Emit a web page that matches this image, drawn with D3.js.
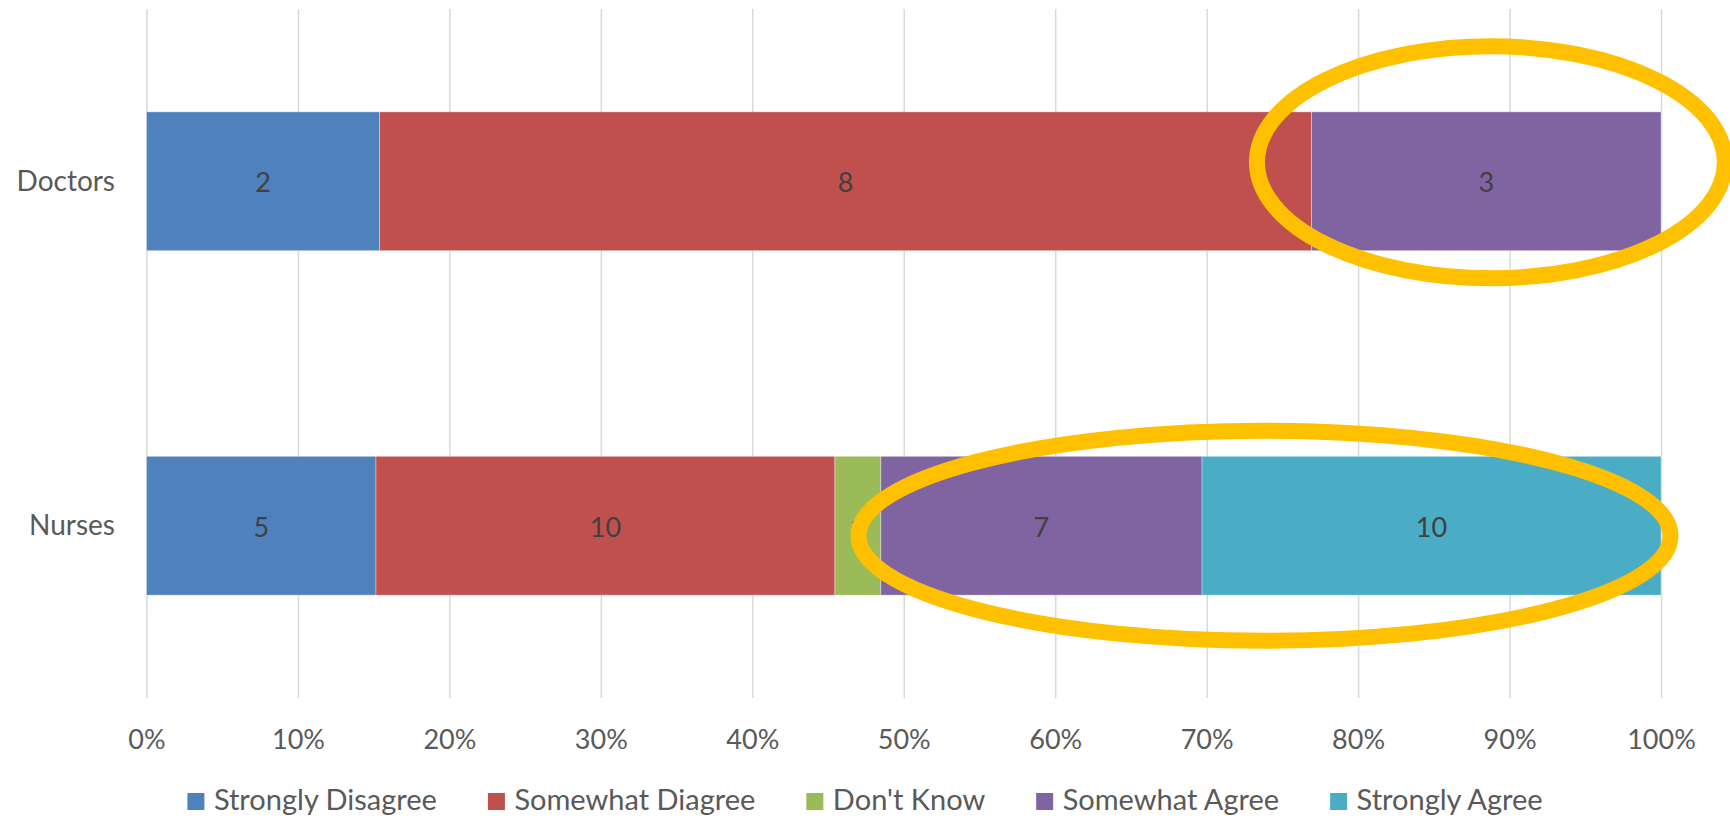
<!DOCTYPE html>
<html>
<head>
<meta charset="utf-8">
<script src="https://cdn.jsdelivr.net/npm/d3@7/dist/d3.min.js"></script>
<style>
  html, body { margin: 0; padding: 0; background: #ffffff; }
  svg { display: block; }
  text { font-family: Lato, "Open Sans", "Noto Sans", sans-serif; }
</style>
</head>
<body>
<svg id="chart" width="1730" height="819"></svg>
<script>
// Survey responses, counted per group
const categories = ["Doctors", "Nurses"];
const responses = ["Strongly Disagree", "Somewhat Diagree", "Don't Know", "Somewhat Agree", "Strongly Agree"];
const doctorsCounts = [2, 8, 0, 3, 0];
const nursesCounts = [5, 10, 1, 7, 10];
const tickValues = [0, 0.1, 0.2, 0.3, 0.4, 0.5, 0.6, 0.7, 0.8, 0.9, 1];
const colors = ["#4F81BD", "#C0504D", "#9BBB59", "#8064A2", "#4BACC6"];

// Highlight rings: span along the value axis (share of responses) and offset from the bar
const highlights = [
  { category: "Doctors", x0: 0.7332, x1: 1.0422, dy: -19, ry: 116 },
  { category: "Nurses",  x0: 0.4701, x1: 1.0063, dy: 10,  ry: 105 }
];

const countsByCategory = { Doctors: doctorsCounts, Nurses: nursesCounts };

const svg = d3.select("#chart");
const W = 1730, H = 819;
const plot = { left: 146.5, right: 1661, top: 9, bottom: 698 };

const x = d3.scaleLinear().domain([0, 1]).range([plot.left, plot.right]);
const y = d3.scaleBand()
  .domain(categories)
  .range([plot.top, plot.bottom])
  .paddingInner(0.597)
  .paddingOuter(0.2985);

// Gridlines + percentage tick labels
const xAxis = d3.axisBottom(x)
  .tickValues(tickValues)
  .tickFormat(d3.format(".0%"))
  .tickSize(-(plot.bottom - plot.top))
  .tickSizeOuter(0);

const gx = svg.append("g")
  .attr("transform", `translate(0,${plot.bottom})`)
  .call(xAxis);
gx.select(".domain").remove();
gx.selectAll(".tick line")
  .attr("stroke", "#D9D9D9")
  .attr("stroke-width", 1.5);
gx.selectAll(".tick text")
  .attr("y", 51)
  .attr("dy", 0)
  .attr("fill", "#595959")
  .attr("font-size", 27);

// Category labels
const yAxis = d3.axisLeft(y).tickSize(0).tickPadding(0);
const gy = svg.append("g")
  .attr("transform", `translate(115,0)`)
  .call(yAxis);
gy.select(".domain").remove();
gy.selectAll(".tick text")
  .attr("x", 0)
  .attr("dy", 0)
  .attr("y", 9.5)
  .attr("fill", "#595959")
  .attr("font-size", 28)
  .attr("text-anchor", "end");

// Stack as shares of each group's total
const rows = categories.map(c => {
  const counts = countsByCategory[c];
  const total = d3.sum(counts);
  const row = { category: c, total };
  responses.forEach((r, i) => { row[r] = counts[i] / total; row[r + "#n"] = counts[i]; });
  return row;
});
const series = d3.stack().keys(responses)(rows);

const layers = svg.append("g").selectAll("g")
  .data(series)
  .join("g")
  .attr("fill", (d, i) => colors[i]);

layers.selectAll("rect")
  .data(d => d.map(s => ({ s, key: d.key })))
  .join("rect")
  .filter(d => d.s[1] - d.s[0] > 0)
  .attr("x", d => x(d.s[0]))
  .attr("y", d => y(d.s.data.category))
  .attr("width", d => x(d.s[1]) - x(d.s[0]))
  .attr("height", y.bandwidth())
  .attr("stroke", "#ffffff")
  .attr("stroke-opacity", 0.35)
  .attr("stroke-width", 1);

// Count labels centred in each segment
const labels = svg.append("g");
series.forEach(layer => {
  layer.forEach(s => {
    const n = s.data[layer.key + "#n"];
    if (!n) return;
    labels.append("text")
      .attr("x", (x(s[0]) + x(s[1])) / 2)
      .attr("y", y(s.data.category) + y.bandwidth() / 2 + 11)
      .attr("text-anchor", "middle")
      .attr("fill", "#404040")
      .attr("font-size", 27)
      .text(n);
  });
});

// Highlight rings
svg.append("g").selectAll("ellipse")
  .data(highlights)
  .join("ellipse")
  .attr("cx", d => (x(d.x0) + x(d.x1)) / 2)
  .attr("cy", d => y(d.category) + y.bandwidth() / 2 + d.dy)
  .attr("rx", d => (x(d.x1) - x(d.x0)) / 2)
  .attr("ry", d => d.ry)
  .attr("fill", "none")
  .attr("stroke", "#FFC000")
  .attr("stroke-width", 16);

// Legend, centred under the chart
const legend = svg.append("g");
const swatch = 17, swatchGap = 9.5, itemGap = 51, legendBaseline = 810;
const items = legend.selectAll("g")
  .data(responses)
  .join("g");
items.append("rect")
  .attr("width", swatch)
  .attr("height", swatch)
  .attr("y", legendBaseline - 17)
  .attr("fill", (d, i) => colors[i]);
items.append("text")
  .attr("x", swatch + swatchGap)
  .attr("y", legendBaseline)
  .attr("fill", "#595959")
  .attr("font-size", 29)
  .text(d => d);

const widths = [];
items.each(function () {
  widths.push(swatch + swatchGap + d3.select(this).select("text").node().getComputedTextLength());
});
const totalWidth = d3.sum(widths) + itemGap * (widths.length - 1);
let cursor = W / 2 - totalWidth / 2;
items.each(function (d, i) {
  d3.select(this).attr("transform", `translate(${cursor},0)`);
  cursor += widths[i] + itemGap;
});
</script>
</body>
</html>
